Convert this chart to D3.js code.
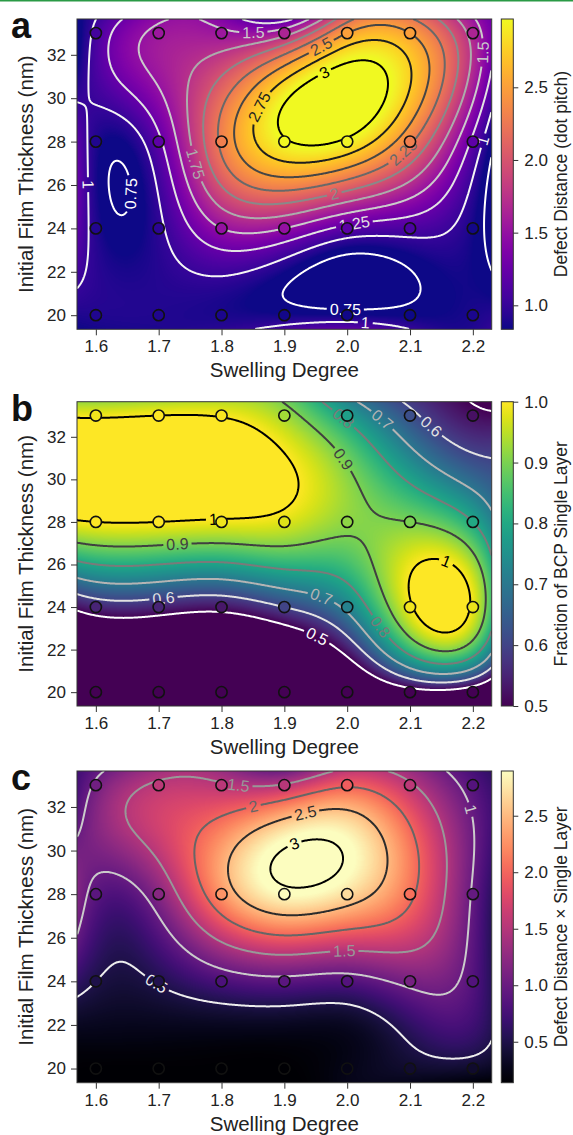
<!DOCTYPE html>
<html>
<head>
<meta charset="utf-8">
<title>Defect distance and single-layer maps</title>
<script src="https://cdn.jsdelivr.net/npm/d3@7"></script>
<style>
  html, body { margin: 0; padding: 0; background: #fff; }
  svg { display: block; font-family: "Liberation Sans", Arial, Helvetica, sans-serif; }
</style>
</head>
<body>
<svg id="figure" width="573" height="1135"></svg>
<script>
// ---------------- data ----------------
const swelling = [1.6, 1.7, 1.8, 1.9, 2.0, 2.1, 2.2];
const thickness = [20, 24, 28, 33];

// defect distance (dot pitch) at the measured points: one row per film thickness
const defectDistance = [
  [0.90, 0.90, 0.88, 0.86, 0.85, 0.835, 0.88],
  [0.91, 0.95, 1.50, 1.50, 1.18, 1.10, 0.86],
  [0.90, 1.20, 2.30, 2.97, 2.95, 2.30, 1.20],
  [1.06, 1.55, 1.55, 1.65, 2.50, 2.50, 1.65]
];

// fraction of BCP single layer at the measured points, same layout
const singleLayer = [
  [0.16, 0.16, 0.16, 0.16, 0.30, 0.45, 0.42],
  [0.55, 0.55, 0.53, 0.60, 0.72, 0.99, 0.985],
  [1.00, 1.00, 0.99, 0.975, 0.915, 0.90, 0.80],
  [0.99, 1.00, 0.995, 0.93, 0.78, 0.62, 0.52]
];

// surface values between the 28 nm and 33 nm rows (30.5 nm)
const midThickness = 30.5;
const defectDistanceMid = [1.05, 1.50, 2.10, 2.85, 3.20, 2.75, 1.60];
const singleLayerMid = [1.10, 1.10, 1.08, 1.015, 0.905, 0.76, 0.64];

const swellingTicks = [1.6, 1.7, 1.8, 1.9, 2.0, 2.1, 2.2];
const thicknessTicks = [20, 22, 24, 26, 28, 30, 32];

const levelsA = [0.75, 1, 1.25, 1.5, 1.75, 2, 2.25, 2.5, 2.75, 3];
const levelsB = [0.5, 0.6, 0.7, 0.8, 0.9, 1.0];
const levelsC = [0.5, 1, 1.5, 2, 2.5, 3];

const colorTicksA = [1.0, 1.5, 2.0, 2.5];
const colorTicksB = [0.5, 0.6, 0.7, 0.8, 0.9, 1.0];
const colorTicksC = [0.5, 1.0, 1.5, 2.0, 2.5];

// inline contour label anchors: [level, swelling, thickness]
const labelsA = [
  [1.5, 1.85, 33.33], [2.75, 1.862, 29.57], [1.75, 1.761, 27.0], [2.5, 1.957, 32.5],
  [3, 1.968, 30.9], [1.5, 2.213, 32.1], [2.25, 2.082, 27.75], [1, 2.215, 28.06],
  [2, 1.976, 26.0], [1.25, 2.008, 24.77], [0.75, 1.997, 20.72], [1, 2.029, 19.57],
  [0.75, 1.654, 25.6], [1, 1.582, 26.0]
];
const labelsB = [
  [1, 1.787, 28.4], [0.9, 1.729, 27.07], [0.8, 1.992, 32.78], [0.7, 2.05, 32.6],
  [0.6, 2.128, 32.3], [0.9, 1.987, 30.83], [1, 2.16, 26.3], [0.7, 1.955, 24.18],
  [0.8, 2.05, 23.0], [0.5, 1.947, 22.3], [0.6, 1.707, 24.49]
];
const labelsC = [
  [1.5, 1.827, 33.22], [2, 1.851, 32.0], [2.5, 1.936, 31.39], [3, 1.923, 29.78],
  [1, 2.192, 31.85], [1.5, 1.995, 25.5], [0.5, 1.697, 23.9], [0.5, 2.074, 19.6]
];

// ---------------- interpolation ----------------
function solveLinear(A, b) {
  const n = b.length, M = A.map((row, i) => [...row, b[i]]);
  for (let c = 0; c < n; c++) {
    let p = c;
    for (let r = c + 1; r < n; r++) if (Math.abs(M[r][c]) > Math.abs(M[p][c])) p = r;
    [M[c], M[p]] = [M[p], M[c]];
    for (let r = 0; r < n; r++) {
      if (r === c) continue;
      const f = M[r][c] / M[c][c];
      for (let k = c; k <= n; k++) M[r][k] -= f * M[c][k];
    }
  }
  return M.map((row, i) => row[n] / row[i]);
}

// cubic spline with not-a-knot ends; outside the nodes the end pieces are extended
function notAKnotSpline(xs, ys) {
  const n = xs.length, h = [];
  for (let i = 0; i < n - 1; i++) h.push(xs[i + 1] - xs[i]);
  const A = Array.from({ length: n }, () => new Array(n).fill(0));
  const r = new Array(n).fill(0);
  A[0][0] = -1 / h[0]; A[0][1] = 1 / h[0] + 1 / h[1]; A[0][2] = -1 / h[1];
  for (let i = 1; i < n - 1; i++) {
    A[i][i - 1] = h[i - 1]; A[i][i] = 2 * (h[i - 1] + h[i]); A[i][i + 1] = h[i];
    r[i] = 6 * ((ys[i + 1] - ys[i]) / h[i] - (ys[i] - ys[i - 1]) / h[i - 1]);
  }
  A[n - 1][n - 3] = -1 / h[n - 3]; A[n - 1][n - 2] = 1 / h[n - 3] + 1 / h[n - 2]; A[n - 1][n - 1] = -1 / h[n - 2];
  const M = solveLinear(A, r);
  return x => {
    let i = d3.bisectRight(xs, x) - 1;
    i = Math.max(0, Math.min(n - 2, i));
    const hi = h[i], a = xs[i + 1] - x, b = x - xs[i];
    return M[i] * a * a * a / (6 * hi) + M[i + 1] * b * b * b / (6 * hi)
      + (ys[i] / hi - M[i] * hi / 6) * a + (ys[i + 1] / hi - M[i + 1] * hi / 6) * b;
  };
}

// weights of each node for a spline through the nodes, evaluated at ts
function splineWeights(nodes, ts) {
  return nodes.map((_, k) => {
    const s = notAKnotSpline(nodes, nodes.map((__, m) => (m === k ? 1 : 0)));
    return ts.map(s);
  });
}

// smooth surface: spline across swelling for each thickness row, then spline across thickness
function sampleSurface(rows, rowThickness, xs, ys) {
  const cols = rows.map(r => xs.map(notAKnotSpline(swelling, r)));
  const w = splineWeights(rowThickness, ys);
  const out = new Float64Array(xs.length * ys.length);
  ys.forEach((y, j) => {
    for (let i = 0; i < xs.length; i++) {
      let v = 0;
      for (let r = 0; r < rows.length; r++) v += w[r][j] * cols[r][i];
      out[j * xs.length + i] = v;
    }
  });
  return out;
}

const surfaceThickness = [thickness[0], thickness[1], thickness[2], midThickness, thickness[3]];
const surfaceA = [defectDistance[0], defectDistance[1], defectDistance[2], defectDistanceMid, defectDistance[3]];
const surfaceB = [singleLayer[0], singleLayer[1], singleLayer[2], singleLayerMid, singleLayer[3]];

// ---------------- contour line helpers ----------------
function isolines(values, nx, ny, level) {
  const geo = d3.contours().size([nx, ny]).thresholds([level])(values)[0];
  const runs = [];
  const edge = p => p[0] <= 1e-6 || p[0] >= nx - 1e-6 || p[1] <= 1e-6 || p[1] >= ny - 1e-6;
  for (const poly of geo.coordinates) for (const ring0 of poly) {
    const ring = ring0.slice();
    const f = ring[0], l = ring[ring.length - 1];
    if (ring.length > 1 && f[0] === l[0] && f[1] === l[1]) ring.pop();
    const n = ring.length;
    if (n < 2) continue;
    const s = ring.findIndex(edge);
    if (s < 0) { runs.push({ pts: ring.concat([ring[0]]), closed: true }); continue; }
    let cur = [ring[s]];
    for (let k = 1; k <= n; k++) {
      const q = ring[(s + k) % n], p = cur[cur.length - 1];
      if (edge(p) && edge(q)) {
        if (cur.length > 1) runs.push({ pts: cur, closed: false });
        cur = [q];
      } else cur.push(q);
    }
    if (cur.length > 1) runs.push({ pts: cur, closed: false });
  }
  return runs;
}

function cumLength(pts) {
  const c = [0];
  for (let k = 1; k < pts.length; k++) c.push(c[k - 1] + Math.hypot(pts[k][0] - pts[k - 1][0], pts[k][1] - pts[k - 1][1]));
  return c;
}
function pointAt(pts, cum, s) {
  let k = d3.bisectRight(cum, s) - 1;
  k = Math.max(0, Math.min(pts.length - 2, k));
  const seg = cum[k + 1] - cum[k] || 1, t = (s - cum[k]) / seg;
  return [pts[k][0] + t * (pts[k + 1][0] - pts[k][0]), pts[k][1] + t * (pts[k + 1][1] - pts[k][1])];
}
function slicePts(pts, cum, a, b) {
  const out = [pointAt(pts, cum, a)];
  for (let k = 0; k < pts.length; k++) if (cum[k] > a && cum[k] < b) out.push(pts[k]);
  out.push(pointAt(pts, cum, b));
  return out;
}

// ---------------- layout ----------------
const svg = d3.select('#figure');
const frameLeft = 77, frameRight = 491.7;
const barLeft = 501.3, barRight = 513.3;
const x = d3.scaleLinear().domain([1.57, 2.23]).range([frameLeft, frameRight]);

const measurer = svg.append('text').attr('font-size', 16).attr('visibility', 'hidden');
function textWidth(str) { measurer.text(str); return measurer.node().getComputedTextLength(); }

const productSamples = defectDistance.map((row, j) => row.map((v, i) => v * singleLayer[j][i]));

const panels = [
  { letter: 'a', top: 19, bottom: 329.3, cmap: d3.interpolatePlasma, levels: levelsA, ticks: colorTicksA,
    label: 'Defect Distance (dot pitch)', samples: defectDistance, domain: d3.extent(defectDistance.flat()),
    labels: labelsA, surface: (xs, ys) => sampleSurface(surfaceA, surfaceThickness, xs, ys) },
  { letter: 'b', top: 401.7, bottom: 706, cmap: d3.interpolateViridis, levels: levelsB, ticks: colorTicksB,
    label: 'Fraction of BCP Single Layer', samples: singleLayer, domain: [0.5, 1.0],
    labels: labelsB, surface: (xs, ys) => sampleSurface(surfaceB, surfaceThickness, xs, ys) },
  { letter: 'c', top: 771, bottom: 1082.7, cmap: d3.interpolateMagma, levels: levelsC, ticks: colorTicksC,
    label: 'Defect Distance \u00d7 Single Layer', samples: productSamples, domain: d3.extent(productSamples.flat()),
    labels: labelsC, surface: (xs, ys) => {
      const a = sampleSurface(surfaceA, surfaceThickness, xs, ys);
      const b = sampleSurface(surfaceB, surfaceThickness, xs, ys);
      return a.map((v, k) => v * b[k]);
    } }
];

panels.forEach((P) => {
  const y = d3.scaleLinear().domain([19.35, 33.65]).range([P.bottom, P.top]);
  const pw = frameRight - frameLeft, ph = P.bottom - P.top;
  const nx = Math.round(pw), ny = Math.round(ph);
  const xs = d3.range(nx).map(i => x.invert(frameLeft + (i + 0.5) * pw / nx));
  const ys = d3.range(ny).map(j => y.invert(P.top + (j + 0.5) * ph / ny));
  const values = P.surface(xs, ys);

  const color = d3.scaleSequential(P.cmap).domain(P.domain).clamp(true);
  const lineNorm = d3.scaleLinear().domain(P.domain).range([0, 1]).clamp(true);
  const lineColor = lv => d3.interpolateGreys(lineNorm(lv));

  // heat map raster
  const canvas = document.createElement('canvas');
  canvas.width = nx; canvas.height = ny;
  const ctx = canvas.getContext('2d');
  const img = ctx.createImageData(nx, ny);
  for (let k = 0; k < values.length; k++) {
    const c = d3.rgb(color(values[k]));
    img.data[4 * k] = c.r; img.data[4 * k + 1] = c.g; img.data[4 * k + 2] = c.b; img.data[4 * k + 3] = 255;
  }
  ctx.putImageData(img, 0, 0);

  const clipId = 'clip-' + P.letter;
  svg.append('clipPath').attr('id', clipId)
    .append('rect').attr('x', frameLeft).attr('y', P.top).attr('width', pw).attr('height', ph);

  const g = svg.append('g');
  const plot = g.append('g').attr('clip-path', `url(#${clipId})`);
  plot.append('image')
    .attr('x', frameLeft).attr('y', P.top).attr('width', pw).attr('height', ph)
    .attr('preserveAspectRatio', 'none')
    .attr('href', canvas.toDataURL());

  // contour lines in pixel space
  const toPx = ([gx, gy]) => [frameLeft + gx * pw / nx, P.top + gy * ph / ny];
  const runsByLevel = new Map();
  P.levels.forEach(lv => {
    runsByLevel.set(lv, isolines(values, nx, ny, lv).map(r => ({ pts: r.pts.map(toPx), closed: r.closed })));
  });

  // inline labels: cut a gap in the nearest line of that level and write the value along it
  const labelMarks = [];
  P.labels.forEach(([lv, sx, sy]) => {
    const runs = runsByLevel.get(lv);
    if (!runs || !runs.length) return;
    const ax = x(sx), ay = y(sy);
    let best = null;
    runs.forEach((r, ri) => r.pts.forEach((p, k) => {
      const d = Math.hypot(p[0] - ax, p[1] - ay);
      if (!best || d < best.d) best = { d, ri, k };
    }));
    if (best.d > 30) return;
    const run = runs[best.ri];
    const txt = String(lv);
    const half = textWidth(txt) / 2 + 3;
    const pts = run.pts, cum = cumLength(pts);
    const L = cum[cum.length - 1];
    let s0 = cum[best.k];
    const pieces = [];
    let p1, p2, mid;
    if (run.closed) {
      if (L < 2 * half + 4) return;
      const pts2 = pts.concat(pts.slice(1));
      const cum2 = cumLength(pts2);
      if (s0 < half) s0 += L;
      p1 = pointAt(pts2, cum2, s0 - half); p2 = pointAt(pts2, cum2, s0 + half); mid = pointAt(pts2, cum2, s0);
      pieces.push({ pts: slicePts(pts2, cum2, s0 + half, s0 + L - half), closed: false });
    } else {
      s0 = Math.max(Math.min(s0, L - half * 0.6), half * 0.6);
      p1 = pointAt(pts, cum, Math.max(0, s0 - half)); p2 = pointAt(pts, cum, Math.min(L, s0 + half));
      mid = pointAt(pts, cum, s0);
      if (s0 - half > 0.5) pieces.push({ pts: slicePts(pts, cum, 0, s0 - half), closed: false });
      if (s0 + half < L - 0.5) pieces.push({ pts: slicePts(pts, cum, s0 + half, L), closed: false });
    }
    runs.splice(best.ri, 1, ...pieces);
    let ang = Math.atan2(p2[1] - p1[1], p2[0] - p1[0]) * 180 / Math.PI;
    if (ang > 90) ang -= 180;
    if (ang <= -90) ang += 180;
    labelMarks.push({ txt, lv, mid, ang });
  });

  const line = d3.line();
  P.levels.forEach(lv => {
    plot.append('g')
      .selectAll('path')
      .data(runsByLevel.get(lv))
      .join('path')
      .attr('d', r => line(r.pts))
      .attr('fill', 'none')
      .attr('stroke', lineColor(lv))
      .attr('stroke-width', 2)
      .attr('stroke-linejoin', 'round');
  });

  plot.append('g')
    .selectAll('text')
    .data(labelMarks)
    .join('text')
    .attr('transform', d => `translate(${d.mid[0]},${d.mid[1]}) rotate(${d.ang})`)
    .attr('text-anchor', 'middle')
    .attr('dominant-baseline', 'central')
    .attr('font-size', 16)
    .attr('fill', d => lineColor(d.lv))
    .text(d => d.txt);

  // measured sample points, filled with their own value colour
  const pointsData = [];
  P.samples.forEach((row, j) => row.forEach((v, i) => pointsData.push({ sx: swelling[i], sy: thickness[j], v })));
  plot.append('g')
    .selectAll('circle')
    .data(pointsData)
    .join('circle')
    .attr('cx', d => x(d.sx))
    .attr('cy', d => y(d.sy))
    .attr('r', 5.6)
    .attr('fill', d => color(d.v))
    .attr('stroke', '#111')
    .attr('stroke-width', 1.6);

  // frame
  g.append('rect')
    .attr('x', frameLeft).attr('y', P.top).attr('width', pw).attr('height', ph)
    .attr('fill', 'none').attr('stroke', '#333').attr('stroke-width', 1);

  // axes
  const xAxis = g.append('g').attr('transform', `translate(0,${P.bottom})`)
    .call(d3.axisBottom(x).tickValues(swellingTicks).tickFormat(d3.format('.1f')).tickSize(6).tickPadding(5));
  const yAxis = g.append('g').attr('transform', `translate(${frameLeft},0)`)
    .call(d3.axisLeft(y).tickValues(thicknessTicks).tickFormat(d3.format('d')).tickSize(6).tickPadding(5));
  [xAxis, yAxis].forEach(ax => {
    ax.select('.domain').remove();
    ax.selectAll('line').attr('stroke', '#333');
    ax.selectAll('text').attr('font-size', 17).attr('fill', '#222').attr('font-family', null);
  });

  g.append('text')
    .attr('x', (frameLeft + frameRight) / 2).attr('y', P.bottom + 48)
    .attr('text-anchor', 'middle').attr('font-size', 20.5).attr('fill', '#222')
    .text('Swelling Degree');
  g.append('text')
    .attr('transform', `translate(32.6,${(P.top + P.bottom) / 2}) rotate(-90)`)
    .attr('text-anchor', 'middle').attr('font-size', 20.5).attr('fill', '#222')
    .text('Initial Film Thickness (nm)');

  g.append('text')
    .attr('x', 11).attr('y', P.top + 19)
    .attr('font-size', 36).attr('font-weight', 'bold').attr('fill', '#111')
    .text(P.letter);

  // colour bar
  const gradId = 'grad-' + P.letter;
  const grad = svg.append('defs').append('linearGradient').attr('id', gradId)
    .attr('x1', 0).attr('y1', 1).attr('x2', 0).attr('y2', 0);
  d3.range(0, 1.0001, 0.05).forEach(t => grad.append('stop').attr('offset', t).attr('stop-color', P.cmap(t)));
  g.append('rect')
    .attr('x', barLeft).attr('y', P.top).attr('width', barRight - barLeft).attr('height', ph)
    .attr('fill', `url(#${gradId})`).attr('stroke', '#333').attr('stroke-width', 1);
  const cb = d3.scaleLinear().domain(P.domain).range([P.bottom, P.top]);
  const cbAxis = g.append('g').attr('transform', `translate(${barRight},0)`)
    .call(d3.axisRight(cb).tickValues(P.ticks).tickFormat(d3.format('.1f')).tickSize(5).tickPadding(6));
  cbAxis.select('.domain').remove();
  cbAxis.selectAll('line').attr('stroke', '#333');
  cbAxis.selectAll('text').attr('font-size', 17).attr('fill', '#222').attr('font-family', null);
  g.append('text')
    .attr('transform', `translate(567,${(P.top + P.bottom) / 2}) rotate(-90)`)
    .attr('text-anchor', 'middle').attr('font-size', 17.5).attr('fill', '#222')
    .text(P.label);
});

measurer.remove();

// thin green rule along the top edge
svg.append('rect').attr('x', 0).attr('y', 0).attr('width', 573).attr('height', 1.5).attr('fill', '#2a9a45');
</script>
</body>
</html>
